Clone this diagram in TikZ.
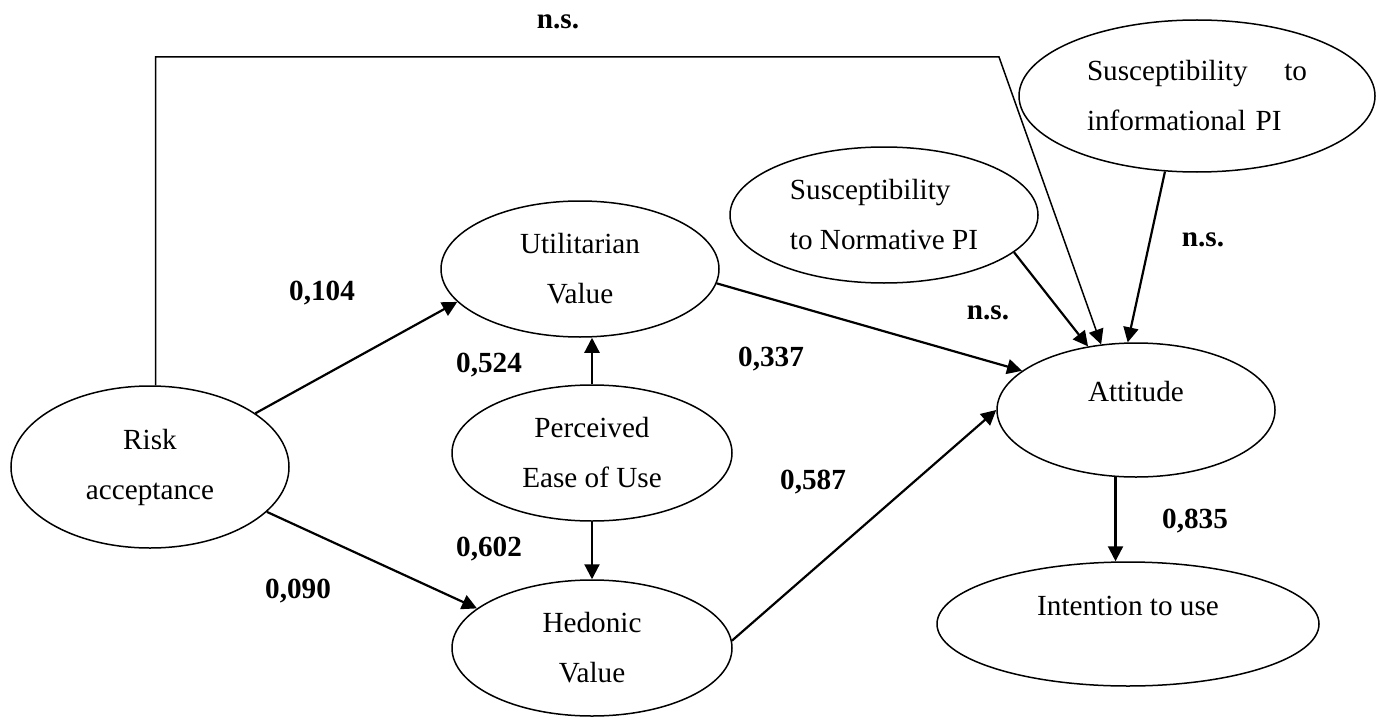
\documentclass[tikz,border=0pt]{standalone}
\usepackage{fontspec}
\setmainfont{Liberation Serif}
\usetikzlibrary{shapes.geometric}
\usetikzlibrary{arrows.meta}
\usetikzlibrary{calc}

\begin{document}
\begin{tikzpicture}[x=0.5pt,y=-0.5pt,
  construct/.style={ellipse, draw, line width=0.75pt, inner sep=0pt, align=center,
    font=\fontsize{14.6}{25}\selectfont},
  coef/.style={inner sep=0pt, font=\fontsize{14.6}{17}\selectfont\bfseries},
  effect/.style={line width=1.1pt, -{Triangle[length=7.5pt,width=7.5pt]}}]

  \useasboundingbox (0,0) rectangle (1386,717);

  % Constructs
  \node[construct, minimum width=139pt, minimum height=81pt] (risk) at (150,467) {Risk\\acceptance};
  \node[construct, minimum width=139pt, minimum height=68pt] (util) at (580,269) {Utilitarian\\Value};
  \node[construct, minimum width=140pt, minimum height=68pt] (peou) at (592,453) {Perceived\\Ease of Use};
  \node[construct, minimum width=140pt, minimum height=68pt] (hedo) at (592,648) {Hedonic\\Value};
  \node[construct, minimum width=154pt, minimum height=68pt, align=left] (norm) at (884,215)
    {Susceptibility\\to Normative PI};
  \node[construct, minimum width=178pt, minimum height=76pt, align=left, text width=110pt] (info) at (1197,96)
    {Susceptibility \hfill to\\informational PI};
  \node[construct, minimum width=139pt, minimum height=67pt, text height=10pt, text depth=19pt] (att) at (1136,410) {Attitude};
  \node[construct, minimum width=191pt, minimum height=62pt, text height=10pt, text depth=19pt] (intent) at (1128,624) {Intention to use};

  % Direct path of risk acceptance
  \coordinate (corner) at (999,57);
  \draw[effect, line width=0.75pt] (risk.86) |- (corner) -- (att.118);

  % Paths
  \draw[effect] (risk.27) -- (util.195);
  \draw[effect] (risk.339) -- (hedo.161);
  \draw[effect] (peou.north) -- (peou.north |- util.south);
  \draw[effect] (peou.south) -- (hedo.north);
  \draw[effect] (util.354) -- (att.161);
  \draw[effect] (hedo.3) -- (att.west);
  \draw[effect] (norm.344) -- (att.127);
  \draw[effect] (info.247) -- (att.97);
  \draw[effect] (att.253) -- (att.253 |- intent.north);

  % Coefficients
  \node[coef] (nsrisk) at (558,22) {n.s.};
  \node[coef] (c104) at (322,293) {0,104};
  \node[coef] (c524) at (489,365) {0,524};
  \node[coef] (c337) at (771,359) {0,337};
  \node[coef] (c587) at (813,482) {0,587};
  \node[coef] (c602) at (489,549) {0,602};
  \node[coef] (c090) at (298,591) {0,090};
  \node[coef] (nsnorm) at (988,313) {n.s.};
  \node[coef] (nsinfo) at (1203,240) {n.s.};
  \node[coef] (c835) at (1195,521) {0,835};

\end{tikzpicture}
\end{document}
